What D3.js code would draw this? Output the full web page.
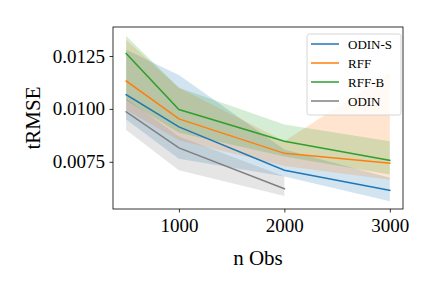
<!DOCTYPE html>
<html>
<head>
<meta charset="utf-8">
<script src="https://d3js.org/d3.v7.min.js"></script>
<style>
body { margin: 0; background: #fff; }
text { font-family: 'Liberation Serif', 'DejaVu Serif', serif; fill: #000; }
</style>
</head>
<body>
<svg id="chart" width="432" height="288"></svg>
<script>

// n Obs on the x axis
var nObs = [500, 1000, 2000, 3000];

// mean tRMSE and band limits
var odinSMean = [0.01067, 0.00915, 0.00710, 0.00615];
var odinSLow  = [0.00950, 0.00764, 0.00680, 0.00564];
var odinSHigh = [0.01280, 0.01160, 0.00808, 0.00675];

var rffMean = [0.01132, 0.00953, 0.00790, 0.00743];
var rffLow  = [0.00995, 0.00852, 0.00730, 0.00665];
var rffHigh = [0.01325, 0.01100, 0.00847, 0.01170];

var rffBMean = [0.01262, 0.00997, 0.00847, 0.00757];
var rffBLow  = [0.01040, 0.00887, 0.00775, 0.00690];
var rffBHigh = [0.01345, 0.01100, 0.00926, 0.00847];

var odinMean = [0.00986, 0.00816, 0.00623];
var odinLow  = [0.00900, 0.00710, 0.00588];
var odinHigh = [0.01050, 0.00870, 0.00680];

var seriesNames = ['ODIN-S', 'RFF', 'RFF-B', 'ODIN'];
var seriesColors = ['#1f77b4', '#ff7f0e', '#2ca02c', '#7f7f7f'];

var xTicks = [1000, 2000, 3000];
var yTicks = [0.0075, 0.0100, 0.0125];

var series = [
	{mean: odinSMean, lo: odinSLow, hi: odinSHigh},
	{mean: rffMean, lo: rffLow, hi: rffHigh},
	{mean: rffBMean, lo: rffBLow, hi: rffBHigh},
	{mean: odinMean, lo: odinLow, hi: odinHigh}
];

function drawChart() {
	var svg = d3.select('#chart');
	var left = 113, right = 403, plotTop = 27, bottom = 209;

	var x = d3.scaleLinear().domain([375, 3125]).range([left, right]);
	var y = d3.scaleLinear().domain([0.00527, 0.01387]).range([bottom, plotTop]);

	// bands first, then lines
	series.forEach(function(s, k) {
		var pts = s.mean.map(function(m, i) { return i; });
		var area = d3.area()
			.x(function(i) { return x(nObs[i]); })
			.y0(function(i) { return y(s.lo[i]); })
			.y1(function(i) { return y(s.hi[i]); });
		svg.append('path')
			.attr('d', area(pts))
			.attr('fill', seriesColors[k])
			.attr('fill-opacity', 0.2)
			.attr('stroke', 'none');
	});

	series.forEach(function(s, k) {
		var line = d3.line()
			.x(function(d, i) { return x(nObs[i]); })
			.y(function(d) { return y(d); });
		svg.append('path')
			.attr('d', line(s.mean))
			.attr('fill', 'none')
			.attr('stroke', seriesColors[k])
			.attr('stroke-width', 1.5)
			.attr('stroke-linecap', 'square');
	});

	// axes
	var xAxis = svg.append('g')
		.attr('transform', 'translate(0,' + bottom + ')')
		.call(d3.axisBottom(x).tickValues(xTicks).tickSize(3.5).tickPadding(4).tickFormat(d3.format('d')));
	var yAxis = svg.append('g')
		.attr('transform', 'translate(' + left + ',0)')
		.call(d3.axisLeft(y).tickValues(yTicks).tickSize(3.5).tickPadding(4.5).tickFormat(d3.format('.4f')));

	[xAxis, yAxis].forEach(function(g) {
		g.select('.domain').remove();
		g.selectAll('line').attr('stroke', '#000').attr('stroke-width', 0.8);
		g.selectAll('text').attr('font-size', 19).attr('font-family', "'Liberation Serif', serif").attr('fill', '#000');
	});
	xAxis.selectAll('text').attr('dy', '0.8em');

	svg.append('rect')
		.attr('x', left).attr('y', plotTop)
		.attr('width', right - left).attr('height', bottom - plotTop)
		.attr('fill', 'none')
		.attr('stroke', '#000')
		.attr('stroke-width', 0.8);

	svg.append('text')
		.text('n Obs')
		.attr('x', (left + right) / 2)
		.attr('y', 265)
		.attr('text-anchor', 'middle')
		.attr('font-size', 21);

	svg.append('text')
		.text('tRMSE')
		.attr('transform', 'translate(40,' + ((plotTop + bottom) / 2) + ') rotate(-90)')
		.attr('text-anchor', 'middle')
		.attr('font-size', 21);

	// legend
	var legend = svg.append('g');
	legend.append('rect')
		.attr('x', 307).attr('y', 34)
		.attr('width', 94).attr('height', 81)
		.attr('rx', 2.5)
		.attr('fill', '#fff')
		.attr('fill-opacity', 0.8)
		.attr('stroke', '#ccc')
		.attr('stroke-width', 0.8);

	seriesNames.forEach(function(name, i) {
		var ly = 44 + i * 19;
		legend.append('line')
			.attr('x1', 311).attr('x2', 339)
			.attr('y1', ly).attr('y2', ly)
			.attr('stroke', seriesColors[i])
			.attr('stroke-width', 1.5);
		legend.append('text')
			.text(name)
			.attr('x', 348)
			.attr('y', ly + 4.5)
			.attr('font-size', 13);
	});
}

drawChart();

</script>
</body>
</html>
